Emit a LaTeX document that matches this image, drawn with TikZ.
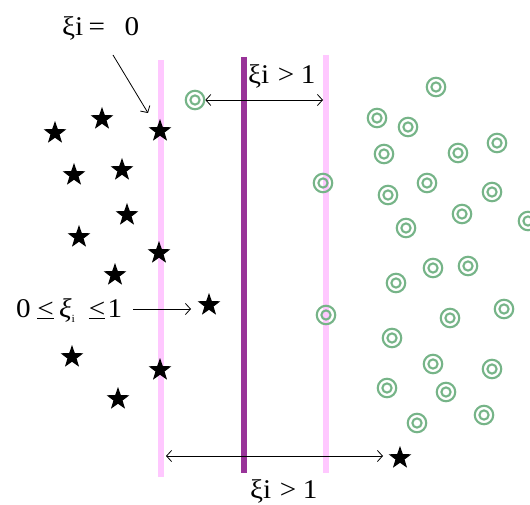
\documentclass[tikz,border=0pt]{standalone}
\usepackage{fontspec}
\setmainfont{Liberation Serif}
\usetikzlibrary{shapes.geometric,arrows.meta}
\definecolor{lpink}{HTML}{FFC8FF}
\definecolor{dpurple}{HTML}{993399}
\definecolor{ringc}{HTML}{76B488}
\tikzset{
  starm/.style={star, star points=5, star point ratio=2.5, fill=black, inner sep=0pt, minimum size=24pt},
  ring/.style={circle, draw=ringc, line width=2.1pt, inner sep=0pt, minimum size=18.5pt},
  ringin/.style={draw=ringc, line width=2.1pt},
  pinkline/.style={lpink, line width=6pt},
  purpline/.style={dpurple, line width=6pt},
  arr/.style={black, line width=0.8pt, -{Straight Barb[length=5pt,width=11pt]}},
  darr/.style={black, line width=0.8pt, {Straight Barb[length=5pt,width=11pt]}-{Straight Barb[length=5pt,width=11pt]}},
  lab/.style={font=\fontsize{27}{29}\selectfont, inner sep=0pt, anchor=base west}
}
\newcommand{\wide}[1]{\scalebox{1.08}[1]{#1}}
\begin{document}
\begin{tikzpicture}[x=1pt,y=-1pt]
\useasboundingbox (0,0) rectangle (530,505);
% lines
\coordinate (lt) at (161,60); \coordinate (lb) at (161,477);
\coordinate (mt) at (244,57); \coordinate (mb) at (244,473);
\coordinate (rt) at (326,55); \coordinate (rb) at (326,473);
\draw[pinkline] (lt) -- (lb);
\draw[purpline] (mt) -- (mb);
\draw[pinkline] (rt) -- (rb);
% stars
\foreach \n/\x/\y in {1/55/133, 2/102/119, 3/160/131, 4/74/175, 5/122/170, 6/127/215, 7/79/237, 8/159/253, 9/115/275, 10/209/305, 11/72/357, 12/160/370, 13/118/399, 14/400/458}
  \node[starm] (s\n) at (\x,\y) {};
% rings
\foreach \n/\x/\y in {1/195/100, 2/436/87, 3/377/118, 4/408/127, 5/384/154, 6/458/153, 7/497/143, 8/323/183, 9/388/195, 10/427/183, 11/492/192, 12/462/214, 13/406/228, 14/528/221, 15/433/268, 16/468/266, 17/396/283, 18/326/315, 19/450/318, 20/504/309, 21/392/338, 22/433/364, 23/492/369, 24/387/388, 25/446/392, 26/484/415, 27/417/423}
{
  \node[ring] (c\n) at (\x,\y) {};
  \draw[ringin] (c\n.center) circle[radius=4.6pt];
}
% labels
\node[lab] (l0) at (62,36) {\wide{ξi\hspace{5pt}=\hspace{18pt}0}};
\node[lab] (l1) at (248,84) {\wide{ξi\hspace{8pt}>\hspace{6pt}1}};
\node[lab] (l2) at (250,498) {\wide{ξi\hspace{8pt}>\hspace{6pt}1}};
\node[lab] (l3) at (16,317) {\wide{0\hspace{6pt}\underline{<}\hspace{5pt}{\itshape ξ}\raisebox{-5pt}{\fontsize{11}{12}\selectfont i}\hspace{13pt}\underline{<}\hspace{2pt}1}};
% arrows
\coordinate (a0s) at (113,55); \coordinate (a0e) at (148,113);
\draw[arr] (a0s) -- (a0e);
\coordinate (a1e) at (323,100);
\draw[darr] (c1.east |- a1e) -- (a1e);
\coordinate (a3s) at (133,309); \coordinate (a3e) at (191,309);
\draw[arr] (a3s) -- (a3e);
\coordinate (a2s) at (166,456); \coordinate (a2e) at (383,456);
\draw[darr] (a2s) -- (a2e);
\end{tikzpicture}
\end{document}
